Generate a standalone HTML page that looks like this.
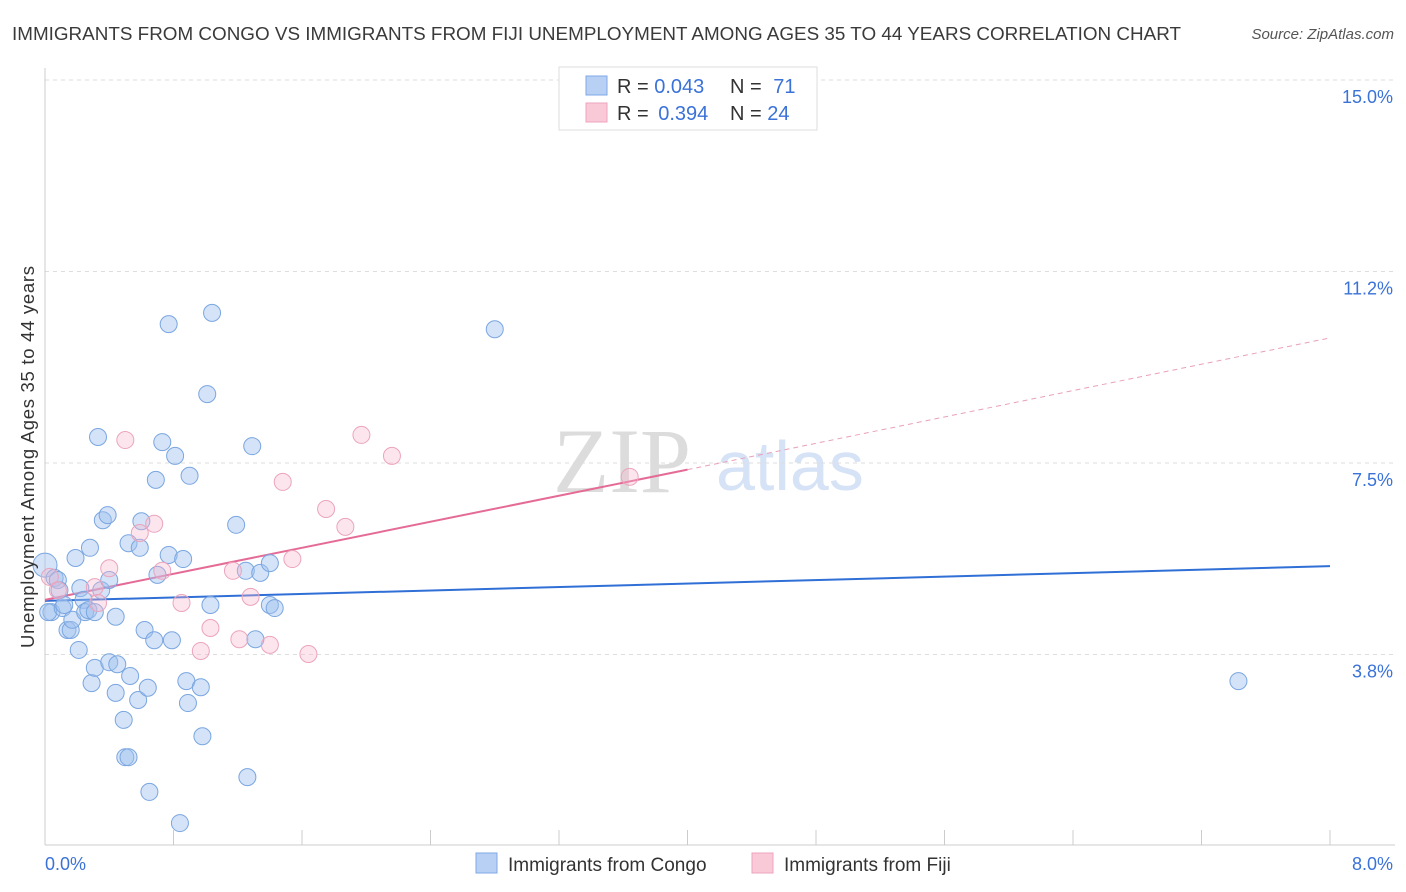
<!DOCTYPE html>
<html><head><meta charset="utf-8"><style>
body{margin:0;background:#fff;font-family:"Liberation Sans",sans-serif;}
svg{display:block}
</style></head><body>
<svg id="chart" width="1406" height="892">
<text x="12" y="40" font-size="18" fill="#3a3a3a" textLength="1169" lengthAdjust="spacingAndGlyphs">IMMIGRANTS FROM CONGO VS IMMIGRANTS FROM FIJI UNEMPLOYMENT AMONG AGES 35 TO 44 YEARS CORRELATION CHART</text>
<text x="1394" y="39" font-size="15" fill="#555" font-style="italic" text-anchor="end">Source: ZipAtlas.com</text>
<g>
<text x="553" y="492" font-family="Liberation Serif" font-size="92" fill="#dcdcdc">ZIP</text>
<text x="716" y="490" font-size="70" fill="#d6e2f5">atlas</text>
</g>
<g id="grid"></g>
<g id="axes"></g>
<g id="lines"></g>
<g id="pts"></g>
<g>
<rect x="559" y="67" width="258" height="63" fill="#fff" stroke="#ddd"/>
<rect x="586" y="76" width="21" height="19" fill="#b9d0f5" stroke="#7ea8e6"/>
<rect x="586" y="103" width="21" height="19" fill="#f9c9d8" stroke="#eea3bd"/>
<text x="617" y="93" font-size="20" fill="#333">R = <tspan fill="#3a72d8">0.043</tspan></text>
<text x="730" y="93" font-size="20" fill="#333">N = <tspan fill="#3a72d8" dx="6">71</tspan></text>
<text x="617" y="120" font-size="20" fill="#333">R = <tspan fill="#3a72d8" dx="4">0.394</tspan></text>
<text x="730" y="120" font-size="20" fill="#333">N = <tspan fill="#3a72d8">24</tspan></text>
</g>
<text transform="translate(34,457) rotate(-90)" font-size="18.5" fill="#333" text-anchor="middle" textLength="382">Unemployment Among Ages 35 to 44 years</text>
<text x="45" y="870" font-size="18" fill="#3a72d8">0.0%</text>
<text x="1393" y="870" font-size="18" fill="#3a72d8" text-anchor="end">8.0%</text>
<g>
<rect x="476" y="853" width="21" height="20" fill="#b9d0f5" stroke="#7ea8e6"/>
<text x="508" y="871" font-size="19" fill="#333">Immigrants from Congo</text>
<rect x="752" y="853" width="21" height="20" fill="#f9c9d8" stroke="#eea3bd"/>
<text x="784" y="871" font-size="19" fill="#333">Immigrants from Fiji</text>
</g>
</svg>
<script>
const yTicks=[15.0,11.25,7.5,3.75];
const yTickLabels=["15.0%","11.2%","7.5%","3.8%"];
const xTicks=[0,1,2,3,4,5,6,7,8,9,10].map(i=>i*0.8);
const congoX=[0.00,0.06,0.08,0.04,0.02,0.11,0.12,0.09,0.14,0.16,0.17,0.19,0.21,0.22,0.24,0.25,0.27,0.28,0.29,0.31,0.31,0.33,0.35,0.36,0.39,0.40,0.40,0.44,0.44,0.45,0.49,0.50,0.52,0.53,0.52,0.58,0.59,0.60,0.62,0.64,0.65,0.68,0.69,0.70,0.73,0.77,0.77,0.79,0.81,0.84,0.86,0.88,0.89,0.90,0.97,0.98,1.01,1.03,1.04,1.19,1.25,1.26,1.29,1.31,1.34,1.40,1.40,1.43,2.80,7.43];
const congoY=[5.50,5.25,5.21,4.58,4.58,4.66,4.72,5.01,4.23,4.23,4.43,5.64,3.84,5.05,4.82,4.58,4.62,5.84,3.19,4.58,3.49,8.01,5.01,6.38,6.48,5.21,3.60,4.49,3.00,3.56,2.47,1.74,1.74,3.33,5.93,2.86,5.84,6.36,4.23,3.10,1.06,4.03,7.17,5.31,7.91,10.22,5.70,4.03,7.64,0.45,5.62,3.23,2.80,7.25,3.11,2.15,8.85,4.72,10.44,6.29,5.39,1.35,7.83,4.05,5.35,5.54,4.72,4.66,10.12,3.23];
const fijiX=[0.03,0.08,0.31,0.33,0.40,0.50,0.59,0.68,0.73,0.85,0.97,1.03,1.17,1.21,1.28,1.40,1.48,1.54,1.64,1.75,1.87,1.97,2.16,3.64];
const fijiY=[5.27,5.01,5.07,4.76,5.44,7.95,6.13,6.31,5.39,4.76,3.82,4.27,5.39,4.05,4.88,3.94,7.13,5.62,3.76,6.60,6.25,8.05,7.64,7.23];
const congoTrend=[4.80,5.48];
const fijiTrend=[4.82,7.37,9.95];
const fijiTrendX=[0,4,8];

const NS="http://www.w3.org/2000/svg";
const X=v=>45+v*160.625, Y=v=>80+(15-v)*51.07;
function mk(tag,attrs,parent){const e=document.createElementNS(NS,tag);for(const k in attrs)e.setAttribute(k,attrs[k]);parent.appendChild(e);return e;}
const grid=document.getElementById('grid'),axes=document.getElementById('axes'),lines=document.getElementById('lines'),pts=document.getElementById('pts');
yTicks.forEach((t,i)=>{
 const l=mk('line',{x1:45,x2:1395,y1:Y(t),y2:Y(t),stroke:'#ddd','stroke-dasharray':'4,4'},grid);
 
 
 const tx=mk('text',{x:1393,y:Y(t)+23,'font-size':18,fill:'#3a72d8','text-anchor':'end'},grid);
 tx.textContent=yTickLabels[i];
 
 
});
mk('line',{x1:45,x2:45,y1:68,y2:845,stroke:'#ccc'},axes);
mk('line',{x1:45,x2:1395,y1:845,y2:845,stroke:'#ccc'},axes);
xTicks.forEach(t=>{
 const l=mk('line',{x1:X(t),x2:X(t),y1:830,y2:845,stroke:'#ccc'},axes);
 
 
});
const bl=mk('line',{x1:X(0),y1:Y(congoTrend[0]),x2:X(8),y2:Y(congoTrend[1]),stroke:'#2f6fd6','stroke-width':2},lines);


const pl=mk('line',{x1:X(fijiTrendX[0]),y1:Y(fijiTrend[0]),x2:X(fijiTrendX[1]),y2:Y(fijiTrend[1]),stroke:'#e56b97','stroke-width':2},lines);


const pd=mk('line',{x1:X(fijiTrendX[1]),y1:Y(fijiTrend[1]),x2:X(fijiTrendX[2]),y2:Y(fijiTrend[2]),stroke:'#e9a0ba','stroke-width':1,'stroke-dasharray':'5,4'},lines);


congoX.forEach((x,i)=>{
 const c=mk('circle',{cx:X(x),cy:Y(congoY[i]),r:i===0?12:8.5,fill:'rgba(160,192,240,0.45)',stroke:'#7aa6e0','stroke-width':1},pts);
 
 
});
fijiX.forEach((x,i)=>{
 const c=mk('circle',{cx:X(x),cy:Y(fijiY[i]),r:8.5,fill:'rgba(248,180,204,0.35)',stroke:'#eba4bd','stroke-width':1},pts);
 
 
});
</script>
</body></html>
